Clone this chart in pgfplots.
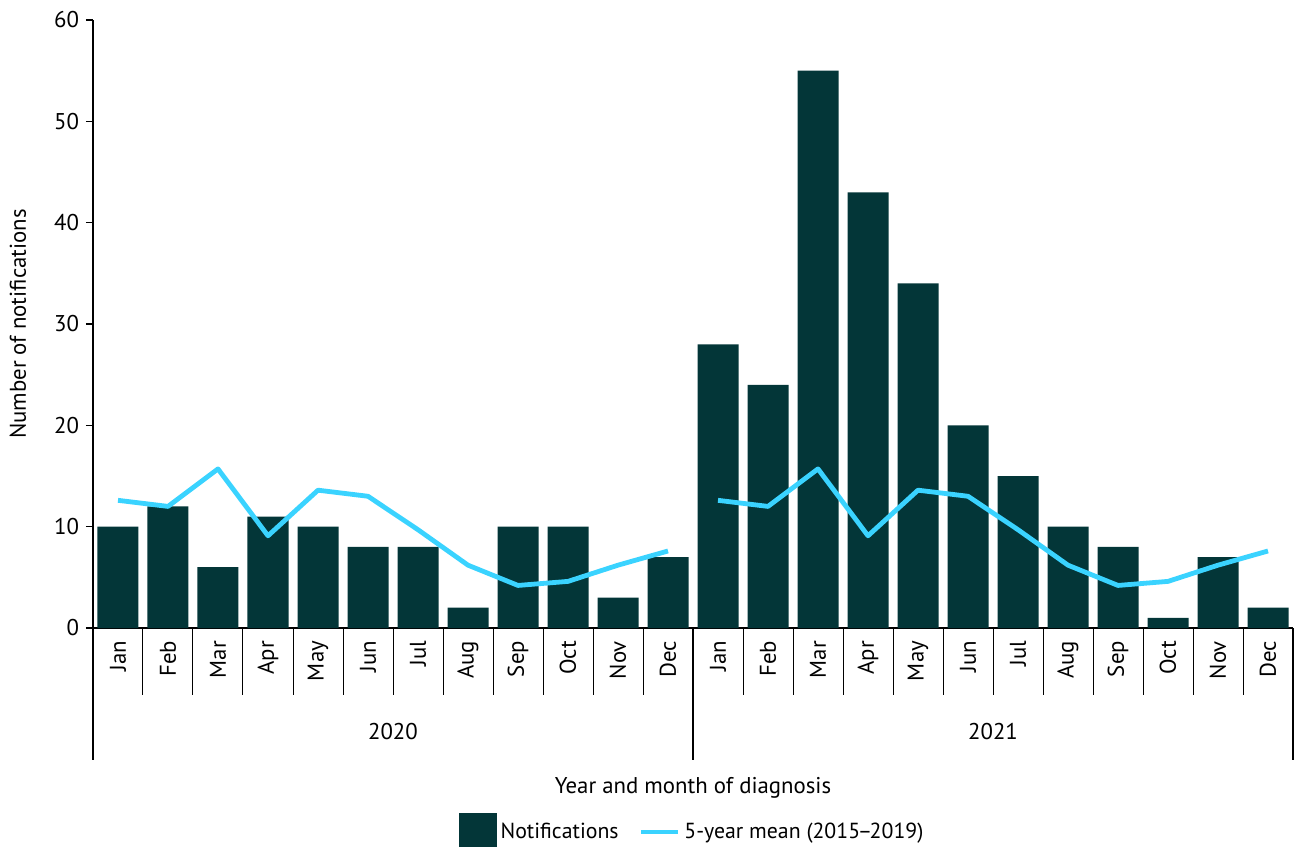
\documentclass[border=0pt]{standalone}
\usepackage{pgfplots}
\pgfplotsset{compat=1.18}
\usepackage{fontspec}
\setmainfont{PT Sans}
\definecolor{bardark}{HTML}{033638}
\definecolor{meancyan}{HTML}{3AD3FF}
\newcommand{\chartfont}{\fontsize{11.4bp}{13bp}\selectfont}
\newcommand{\legfont}{\fontsize{10.9bp}{13bp}\selectfont}
\begin{document}
\begin{tikzpicture}
\useasboundingbox (-46.5bp,-109.5bp) rectangle (601bp,314bp);
\begin{axis}[
  at={(0,0)}, anchor=south west,
  scale only axis, width=600bp, height=304bp,
  xmin=-0.5, xmax=23.5, ymin=0, ymax=60,
  axis x line*=bottom, axis y line*=left,
  axis line style={line width=0.7bp, black},
  ytick={0,10,...,60},
  ytick align=outside, major tick length=3.5bp,
  ytick style={line width=0.7bp, black},
  xtick={0,...,23},
  xticklabels={Jan,Feb,Mar,Apr,May,Jun,Jul,Aug,Sep,Oct,Nov,Dec,Jan,Feb,Mar,Apr,May,Jun,Jul,Aug,Sep,Oct,Nov,Dec},
  xtick style={draw=none},
  xticklabel style={rotate=90, anchor=east},
  xticklabel shift=3bp,
  font=\chartfont,
  tick label style={font=\chartfont},
  /pgf/number format/assume math mode=true,
  xlabel={Year and month of diagnosis},
  xlabel style={at={(axis description cs:0.5,-0.26316)}, anchor=center},
  ylabel={Number of notifications},
  ylabel style={at={(axis description cs:-0.0625,0.5)}, anchor=center},
  legend columns=2,
  legend style={at={(axis description cs:0.5,-0.33553)}, anchor=center, draw=none, fill=none, font=\legfont,
    /tikz/every even column/.append style={column sep=8bp}},
  clip=false,
]
\addplot[ybar, bar width=0.82, fill=bardark, draw=none,
  legend image code/.code={\fill[bardark] (0bp,-9.5bp) rectangle (19bp,9.5bp);}]
coordinates {
(0,10) (1,12) (2,6) (3,11) (4,10) (5,8) (6,8) (7,2) (8,10) (9,10) (10,3) (11,7)
(12,28) (13,24) (14,55) (15,43) (16,34) (17,20) (18,15) (19,10) (20,8) (21,1) (22,7) (23,2)
};
\addlegendentry{Notifications}
\addplot[meancyan, line width=2.4bp, line join=round,
  legend image code/.code={\draw[meancyan, line width=2.4bp] (0bp,0bp) -- (18.5bp,0bp);}]
coordinates {
(0,12.6) (1,12.0) (2,15.7) (3,9.1) (4,13.6) (5,13.0) (6,9.7) (7,6.2) (8,4.2) (9,4.6) (10,6.2) (11,7.6)
};
\addlegendentry{5-year mean (2015\kern-1.2bp--\kern-1.2bp2019)}
\addplot[meancyan, line width=2.4bp, line join=round, forget plot]
coordinates {
(12,12.6) (13,12.0) (14,15.7) (15,9.1) (16,13.6) (17,13.0) (18,9.7) (19,6.2) (20,4.2) (21,4.6) (22,6.2) (23,7.6)
};
\pgfplotsinvokeforeach{0.5,1.5,2.5,3.5,4.5,5.5,6.5,7.5,8.5,9.5,10.5,12.5,13.5,14.5,15.5,16.5,17.5,18.5,19.5,20.5,21.5,22.5}{
  \draw[line width=0.5bp] (axis cs:#1,0) -- (axis cs:#1,-6.6118);
}
\pgfplotsinvokeforeach{-0.5,11.5,23.5}{
  \draw[line width=0.6bp] (axis cs:#1,0) -- (axis cs:#1,-13.026);
}
\node[font=\chartfont] at (axis description cs:0.25,-0.17105) {2020};
\node[font=\chartfont] at (axis description cs:0.75,-0.17105) {2021};
\end{axis}
\end{tikzpicture}
\end{document}
